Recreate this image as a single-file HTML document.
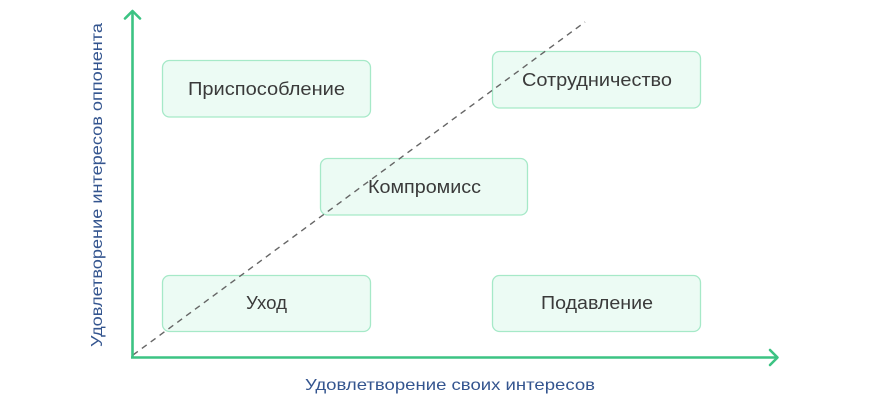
<!DOCTYPE html>
<html>
<head>
<meta charset="utf-8">
<style>
  html, body { margin:0; padding:0; background:#ffffff; }
  body { width:870px; height:400px; overflow:hidden; }
  svg { display:block; }
  .box { fill:#ecfbf4; stroke:#a6e9c8; stroke-width:1.3; }
  .lbl { font-family:"Liberation Sans", "DejaVu Sans", sans-serif; font-size:18px; fill:#3a3a3a; }
  .ax { font-family:"Liberation Sans", "DejaVu Sans", sans-serif; font-size:16px; fill:#34558f; }
</style>
</head>
<body>
<svg width="870" height="400" viewBox="0 0 870 400" xmlns="http://www.w3.org/2000/svg">
  <!-- boxes -->
  <rect class="box" x="162.5" y="60.5" width="208" height="56.5" rx="7"/>
  <rect class="box" x="492.5" y="51.5" width="208" height="56.5" rx="7"/>
  <rect class="box" x="320.5" y="158.5" width="207" height="56.5" rx="7"/>
  <rect class="box" x="162.5" y="275.5" width="208" height="56" rx="7"/>
  <rect class="box" x="492.5" y="275.5" width="208" height="56" rx="7"/>

  <!-- dashed diagonal -->
  <line x1="133" y1="355" x2="585" y2="22" stroke="#666" stroke-width="1.4" stroke-dasharray="6,5"/>

  <!-- axes -->
  <line x1="132.5" y1="11" x2="132.5" y2="358" stroke="#3cc383" stroke-width="2.6"/>
  <line x1="131" y1="357.5" x2="777" y2="357.5" stroke="#3cc383" stroke-width="2.6"/>
  <polyline points="125,18.5 132.5,11 140,18.5" fill="none" stroke="#3cc383" stroke-width="2.6" stroke-linecap="round" stroke-linejoin="round"/>
  <polyline points="770,350 777.5,357.5 770,365" fill="none" stroke="#3cc383" stroke-width="2.6" stroke-linecap="round" stroke-linejoin="round"/>

  <!-- box labels -->
  <text class="lbl" x="188" y="95" textLength="157" lengthAdjust="spacingAndGlyphs">Приспособление</text>
  <text class="lbl" x="522" y="86" textLength="150" lengthAdjust="spacingAndGlyphs">Сотрудничество</text>
  <text class="lbl" x="368" y="193" textLength="113" lengthAdjust="spacingAndGlyphs">Компромисс</text>
  <text class="lbl" x="246" y="309" textLength="41" lengthAdjust="spacingAndGlyphs">Уход</text>
  <text class="lbl" x="541" y="309" textLength="112" lengthAdjust="spacingAndGlyphs">Подавление</text>

  <!-- axis labels -->
  <text class="ax" x="305" y="390" textLength="290" lengthAdjust="spacingAndGlyphs">Удовлетворение своих интересов</text>
  <text class="ax" x="0" y="0" transform="translate(102,347) rotate(-90)" textLength="324" lengthAdjust="spacingAndGlyphs">Удовлетворение интересов оппонента</text>
</svg>
</body>
</html>
